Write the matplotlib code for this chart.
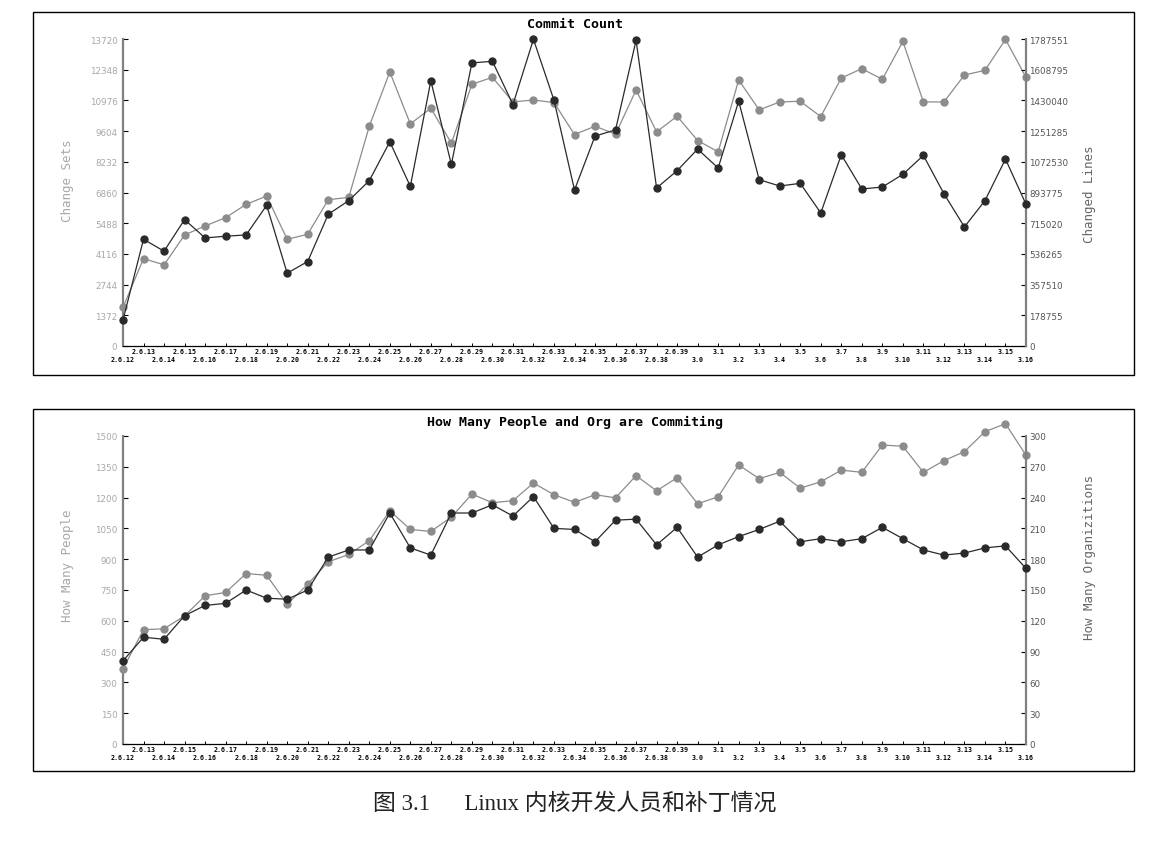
import numpy as np
import matplotlib
matplotlib.use('Agg')
import matplotlib.pyplot as plt
from matplotlib.patches import Rectangle

# kernel versions
versions = ['2.6.%d' % i for i in range(12, 40)] + ['3.%d' % i for i in range(0, 17)]

# commit count panel
change_sets = [1724, 3908, 3626, 4963, 5365, 5736, 6330, 6702, 4770, 4993,
               6538, 6642, 9822, 12245, 9926, 10625, 9065, 11695, 12007, 10907,
               10996, 10878, 9451, 9822, 9466, 11442, 9570, 10268, 9183, 8678,
               11888, 10551, 10907, 10937, 10253, 11977, 12393, 11918, 13612, 10907,
               10907, 12111, 12319, 13701, 12007]
changed_lines = [151063, 621680, 551960, 735946, 629427, 639111, 646858, 819224, 424137, 491922,
                 766933, 846338, 962540, 1189134, 929616, 1543550, 1057438, 1648132, 1657815, 1406044,
                 1785637, 1431220, 908312, 1222058, 1258855, 1779828, 919932, 1020640, 1146528, 1036134,
                 1425411, 968350, 931553, 947048, 774680, 1113602, 914122, 925743, 999337, 1109729,
                 887007, 693338, 846338, 1088425, 825034]

# people / org panel
people = [366, 557, 561, 624, 722, 738, 830, 822, 681, 778,
          887, 923, 990, 1136, 1045, 1035, 1105, 1217, 1175, 1185,
          1271, 1214, 1177, 1214, 1199, 1307, 1233, 1297, 1170, 1204,
          1359, 1292, 1323, 1246, 1277, 1334, 1323, 1456, 1450, 1323,
          1380, 1424, 1521, 1560, 1406]
orgs = [81, 104, 102, 125, 135, 137, 150, 142, 141, 150,
        182, 189, 189, 225, 191, 184, 225, 225, 233, 222,
        241, 210, 209, 197, 218, 219, 194, 211, 182, 194,
        202, 209, 217, 197, 200, 197, 200, 211, 200, 189,
        184, 186, 191, 193, 171]

cs_ticks = [1372 * i for i in range(11)]
cl_ticks = [0, 178755, 357510, 536265, 715020, 893775, 1072530, 1251285, 1430040, 1608795, 1787551]
pp_ticks = [150 * i for i in range(11)]
org_ticks = [30 * i for i in range(11)]

GREY = '#8c8c8c'
DARK = '#2a2a2a'
W, H = 1156, 853

fig = plt.figure(figsize=(W / 100, H / 100), dpi=100)


def px_axes(x0, y0, x1, y1):
    return fig.add_axes([x0 / W, 1 - y1 / H, (x1 - x0) / W, (y1 - y0) / H])


def panel(y_top, y_bot, frame, title, left_vals, right_vals, lticks, rticks,
          llabel, rlabel, llab_y, rlab_y):
    # frame around the panel
    fig.patches.append(Rectangle((frame[0] / W, 1 - frame[3] / H),
                                 (frame[2] - frame[0]) / W, (frame[3] - frame[1]) / H,
                                 transform=fig.transFigure, fill=False,
                                 edgecolor='black', linewidth=1.0))
    ax = px_axes(123, y_top, 1026, y_bot)
    ax2 = ax.twinx()
    x = np.arange(len(versions))

    ax.plot(x, left_vals, color=GREY, lw=0.9, marker='o', ms=5, clip_on=False, zorder=3)
    ax2.plot(x, right_vals, color=DARK, lw=0.9, marker='o', ms=5, clip_on=False, zorder=3)

    ax.set_xlim(0, len(versions) - 1)
    ax.set_ylim(0, lticks[-1])
    ax2.set_ylim(0, rticks[-1])
    ax.set_yticks(lticks)
    ax.set_yticklabels([str(t) for t in lticks])
    ax2.set_yticks(rticks)
    ax2.set_yticklabels([str(t) for t in rticks])

    # staggered version labels: odd ones on the upper row, even ones below
    ax.set_xticks(x[1::2])
    ax.set_xticklabels(versions[1::2], family='DejaVu Sans Mono', fontweight='bold', fontsize=4.8)
    ax.set_xticks(x[0::2], minor=True)
    ax.set_xticklabels(versions[0::2], minor=True, family='DejaVu Sans Mono',
                       fontweight='bold', fontsize=4.8)
    ax.tick_params(axis='x', which='major', direction='in', length=2.5, width=0.7, pad=1.5)
    ax.tick_params(axis='x', which='minor', direction='in', length=2.5, width=0.7, pad=7)
    ax.tick_params(axis='y', direction='in', length=3.5, width=0.8, pad=4,
                   labelsize=6.3, labelcolor='#a8a8a8', color='black')
    ax2.tick_params(axis='y', direction='in', length=3.5, width=0.8, pad=2.5,
                    labelsize=6.3, labelcolor='#555555', color='black')

    for s in ['top', 'right']:
        ax.spines[s].set_visible(False)
    for s in ['top', 'left', 'bottom']:
        ax2.spines[s].set_visible(False)
    ax.spines['left'].set_color('#808080')
    ax.spines['left'].set_linewidth(1.6)
    ax2.spines['right'].set_color('#808080')
    ax2.spines['right'].set_linewidth(1.6)
    ax.spines['bottom'].set_color('black')
    ax.spines['bottom'].set_linewidth(0.9)
    ax.patch.set_visible(False)

    fig.text(575 / W, 1 - title[1] / H, title[0], ha='center', va='center',
             family='DejaVu Sans Mono', fontweight='bold', fontsize=9.5)
    fig.text(67 / W, 1 - llab_y / H, llabel, rotation=90, ha='center', va='center',
             family='DejaVu Sans Mono', fontsize=9, color='#a8a8a8')
    fig.text(1090 / W, 1 - rlab_y / H, rlabel, rotation=90, ha='center', va='center',
             family='DejaVu Sans Mono', fontsize=9, color='#666666')


panel(40, 347, (33, 13, 1134, 376), ('Commit Count', 25), change_sets, changed_lines,
      cs_ticks, cl_ticks, 'Change Sets', 'Changed Lines', 181, 194)
panel(437, 745, (33, 410, 1134, 772), ('How Many People and Org are Commiting', 422),
      people, orgs, pp_ticks, org_ticks, 'How Many People', 'How Many Organizitions', 566, 558)

fig.text(575 / W, 1 - 804 / H, '图 3.1\u3000\u2002Linux 内核开发人员和补丁情况', ha='center', va='center',
         family=['Liberation Serif', 'Noto Sans CJK SC'], fontsize=16.5, color='#222222')

fig.savefig('out.png', dpi=100)
